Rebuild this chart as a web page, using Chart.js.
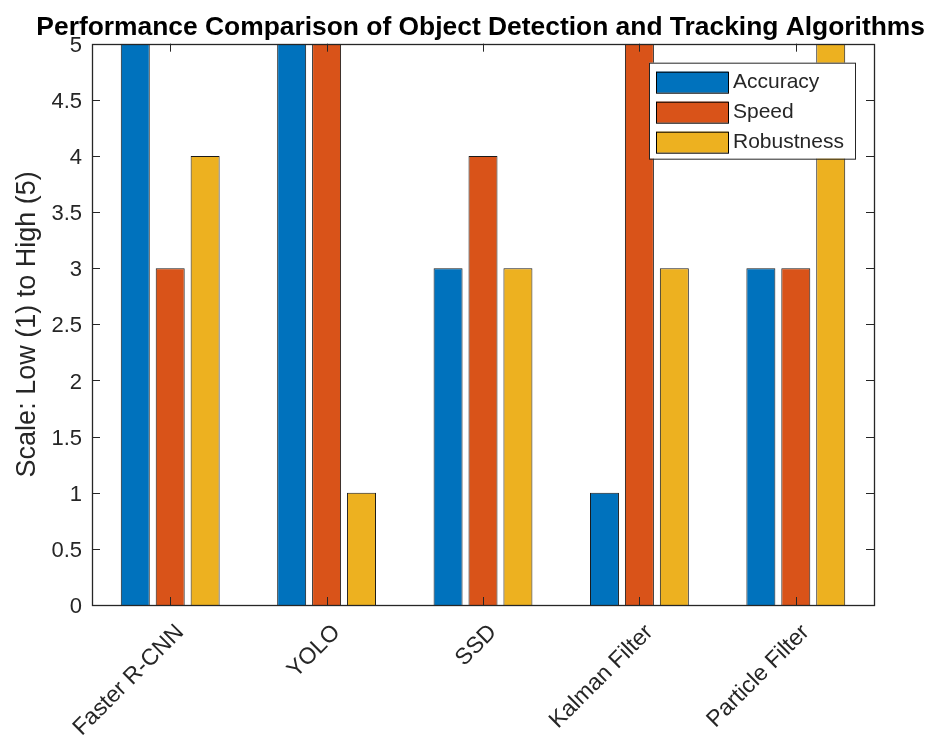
<!DOCTYPE html>
<html>
<head>
<meta charset="utf-8">
<script src="https://cdn.jsdelivr.net/npm/chart.js@4.4.1/dist/chart.umd.min.js"></script>
<style>
    html, body { margin: 0; padding: 0; background: #fff; }
    #wrap { width: 929px; height: 736px; }
</style>
</head>
<body>
<div id="wrap"><canvas id="perfChart" width="929" height="736"></canvas></div>
<script>
const categories = ["Faster R-CNN", "YOLO", "SSD", "Kalman Filter", "Particle Filter"];
const accuracy = [5, 5, 3, 1, 3];
const speed = [3, 5, 4, 5, 3];
const robustness = [4, 1, 3, 3, 5];
const yTickValues = [0, 0.5, 1, 1.5, 2, 2.5, 3, 3.5, 4, 4.5, 5];
const yTickLabels = ["0", "0.5", "1", "1.5", "2", "2.5", "3", "3.5", "4", "4.5", "5"];

const FONT = "'Liberation Sans', Arial, Helvetica, sans-serif";
const AXIS_COLOR = "#262626";

// MATLAB style box: frame plus inward ticks on all four sides
const boxPlugin = {
    id: "matlabBox",
    afterDatasetsDraw(chart) {
        const { ctx, chartArea: a, scales } = chart;
        const x = scales.x, y = scales.y;
        const len = 8;
        ctx.save();
        ctx.strokeStyle = AXIS_COLOR;
        ctx.lineWidth = 1;
        ctx.beginPath();
        y.ticks.forEach(t => {
            const py = Math.round(y.getPixelForValue(t.value)) + 0.5;
            ctx.moveTo(a.left, py); ctx.lineTo(a.left + len, py);
            ctx.moveTo(a.right, py); ctx.lineTo(a.right - len, py);
        });
        x.ticks.forEach((t, i) => {
            const px = Math.round(x.getPixelForTick(i)) + 0.5;
            ctx.moveTo(px, a.bottom); ctx.lineTo(px, a.bottom - len);
            ctx.moveTo(px, a.top); ctx.lineTo(px, a.top + len);
        });
        ctx.stroke();
        ctx.lineWidth = 1.3;
        ctx.strokeRect(Math.round(a.left) + 0.5, Math.round(a.top) + 0.5,
            Math.round(a.right - a.left), Math.round(a.bottom - a.top));
        ctx.restore();
    }
};

// legend box in the upper right corner of the axes
const legendPlugin = {
    id: "matlabLegend",
    afterDraw(chart) {
        const { ctx, chartArea: a } = chart;
        const w = 206, h = 96;
        const bx = a.right - 19 - w, by = a.top + 19;
        ctx.save();
        ctx.fillStyle = "#fff";
        ctx.fillRect(bx, by, w, h);
        ctx.strokeStyle = AXIS_COLOR;
        ctx.lineWidth = 1;
        ctx.strokeRect(bx + 0.5, by + 0.5, w, h);
        ctx.font = "21px " + FONT;
        ctx.textBaseline = "middle";
        chart.data.datasets.forEach((ds, i) => {
            const cy = by + 19 + i * 30;
            ctx.fillStyle = ds.backgroundColor;
            ctx.fillRect(bx + 7, cy - 10, 72, 21);
            ctx.strokeStyle = "#000";
            ctx.strokeRect(bx + 7.5, cy - 9.5, 72, 21);
            ctx.fillStyle = AXIS_COLOR;
            ctx.fillText(ds.label, bx + 84, cy + 1);
        });
        ctx.restore();
    }
};

const ctx = document.getElementById("perfChart");

new Chart(ctx, {
    type: "bar",
    data: {
        labels: categories,
        datasets: [
            { label: "Accuracy", data: accuracy, backgroundColor: "#0072BD" },
            { label: "Speed", data: speed, backgroundColor: "#D95319" },
            { label: "Robustness", data: robustness, backgroundColor: "#EDB120" }
        ]
    },
    options: {
        responsive: false,
        animation: false,
        devicePixelRatio: 1,
        layout: { padding: { left: 8, right: 4, top: 0, bottom: 0 } },
        datasets: {
            bar: {
                borderColor: "#1a1a1a",
                borderWidth: 1,
                categoryPercentage: 0.67,
                barPercentage: 0.83
            }
        },
        scales: {
            x: {
                grid: { display: false, drawTicks: false },
                border: { display: false },
                ticks: {
                    color: AXIS_COLOR,
                    font: { family: FONT, size: 23 },
                    maxRotation: 45,
                    minRotation: 45,
                    padding: 14,
                    labelOffset: 10
                },
                afterFit(scale) { scale.height = 131; }
            },
            y: {
                min: 0,
                max: 5,
                grid: { display: false, drawTicks: false },
                border: { display: false },
                afterBuildTicks(axis) { axis.ticks = yTickValues.map(v => ({ value: v })); },
                ticks: {
                    color: AXIS_COLOR,
                    font: { family: FONT, size: 22 },
                    padding: 10,
                    labelOffset: 2,
                    callback: (value, index) => yTickLabels[index]
                },
                title: {
                    display: true,
                    text: "Scale: Low (1) to High (5)",
                    color: AXIS_COLOR,
                    font: { family: FONT, size: 27 },
                    padding: { top: 3, bottom: 0 }
                },
                afterFit(scale) { scale.width = 84; }
            },
            y2: {
                position: "right",
                display: true,
                grid: { display: false, drawTicks: false },
                border: { display: false },
                ticks: { display: false },
                afterFit(scale) { scale.width = 51; }
            }
        },
        plugins: {
            legend: { display: false },
            tooltip: { enabled: false },
            title: {
                display: true,
                text: "Performance Comparison of Object Detection and Tracking Algorithms",
                color: "#000",
                align: "end",
                font: { family: FONT, size: 26.4, weight: "bold" },
                padding: { top: 12, bottom: 0 }
            }
        }
    },
    plugins: [boxPlugin, legendPlugin]
});
</script>
</body>
</html>
